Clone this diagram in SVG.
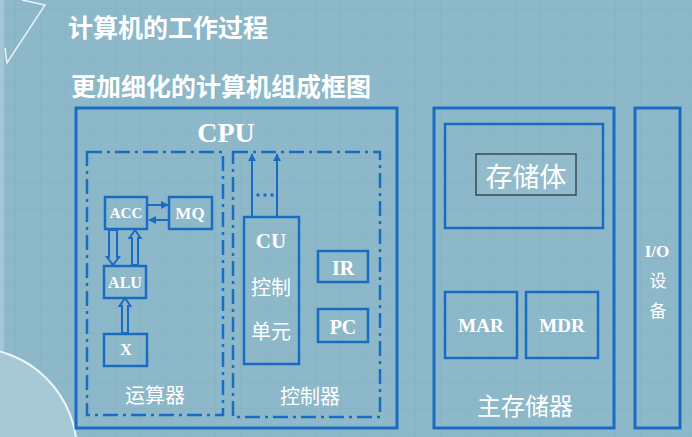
<svg xmlns="http://www.w3.org/2000/svg" width="692" height="437" viewBox="0 0 692 437">
<style>
.box{fill:none;stroke:#1a6cc2;stroke-width:2.5}
.outer{fill:none;stroke:#1a6cc2;stroke-width:3}
.dd{fill:none;stroke:#1a6cc2;stroke-width:2.5;stroke-dasharray:15 5 3 5}
.en{font-family:"Liberation Serif","Times New Roman",serif;font-weight:bold;fill:#ffffff;text-anchor:middle}
.cn{font-family:"Noto Sans CJK SC","Noto Sans",sans-serif;fill:#ffffff;text-anchor:middle}
.title{font-family:"Noto Sans CJK SC","Noto Sans",sans-serif;font-weight:bold;fill:#ffffff;font-size:25px}
.ln{stroke:#1a6cc2;stroke-width:2;fill:none}
.hollow{fill:#8db8c9;stroke:#1a6cc2;stroke-width:2}
</style>
<defs>
<pattern id="grid" x="15" y="8" width="25" height="25" patternUnits="userSpaceOnUse">
<path d="M0 0H25M0 0V25" fill="none" stroke="#84b0c1" stroke-width="1"/>
</pattern>
<marker id="ah" viewBox="0 0 10 10" refX="9" refY="5" markerWidth="4" markerHeight="4" orient="auto">
<path d="M0 0L10 5L0 10z" fill="#1a6cc2"/>
</marker>
</defs>
<rect width="692" height="437" fill="#8db8c9"/>
<rect width="692" height="437" fill="url(#grid)"/>
<rect x="0" y="0" width="4" height="437" fill="#a3c7d4"/>
<circle cx="-27" cy="452" r="104" fill="#a6c9d5" stroke="#eef6f8" stroke-width="2"/>
<polyline points="22,0 45,5 7,63 5,48" fill="none" stroke="#e8f3f6" stroke-width="1.5"/>
<text class="title" x="68" y="37">计算机的工作过程</text>
<text class="title" x="71" y="96">更加细化的计算机组成框图</text>

<g id="cpu">
<rect class="outer" x="76" y="108" width="321" height="320"/>
<text class="en" x="226" y="142" font-size="28">CPU</text>
</g>
<g id="alu-unit">
<rect class="dd" x="87" y="152" width="136" height="263"/>
<text class="cn" x="155" y="403" font-size="20">运算器</text>
</g>
<g id="acc">
<rect class="box" x="105" y="197" width="42" height="32"/>
<text class="en" x="126" y="218" font-size="15">ACC</text>
</g>
<g id="mq">
<rect class="box" x="169" y="197" width="43" height="32"/>
<text class="en" x="190" y="219" font-size="17">MQ</text>
</g>
<g id="alu">
<rect class="box" x="104" y="266" width="42" height="32"/>
<text class="en" x="125" y="288" font-size="16">ALU</text>
</g>
<g id="x">
<rect class="box" x="104" y="334" width="43" height="32"/>
<text class="en" x="126" y="355" font-size="16">X</text>
</g>
<g id="ctrl-unit">
<rect class="dd" x="233" y="152" width="147" height="265"/>
<text class="cn" x="310" y="404" font-size="20">控制器</text>
</g>
<g id="cu">
<rect class="box" x="244" y="217" width="55" height="147"/>
<text class="en" x="271" y="248" font-size="21">CU</text>
<text class="cn" x="271" y="295" font-size="20">控制</text>
<text class="cn" x="271" y="339" font-size="20">单元</text>
</g>
<g id="ir">
<rect class="box" x="318" y="251" width="50" height="31"/>
<text class="en" x="343" y="275" font-size="20">IR</text>
</g>
<g id="pc">
<rect class="box" x="318" y="309" width="50" height="33"/>
<text class="en" x="343" y="334" font-size="20">PC</text>
</g>
<g id="main-memory">
<rect class="outer" x="434" y="108" width="180" height="320"/>
<text class="cn" x="525" y="415" font-size="24">主存储器</text>
</g>
<g id="storage">
<rect class="box" x="445" y="124" width="158" height="104"/>
<rect x="476" y="154" width="100" height="41" fill="#92bccc" stroke="#3a4a52" stroke-width="1.5"/>
<text class="cn" x="526" y="187" font-size="27">存储体</text>
</g>
<g id="mar">
<rect class="box" x="445" y="292" width="72" height="66"/>
<text class="en" x="481" y="332" font-size="19">MAR</text>
</g>
<g id="mdr">
<rect class="box" x="526" y="292" width="72" height="66"/>
<text class="en" x="562" y="332" font-size="19">MDR</text>
</g>
<g id="io">
<rect class="outer" x="635" y="108" width="45" height="320"/>
<text class="en" x="657" y="257" font-size="17">I/O</text>
<text class="cn" x="658" y="287" font-size="17">设</text>
<text class="cn" x="658" y="317" font-size="17">备</text>
</g>

<g id="connectors">
<line class="ln" x1="148" y1="205" x2="168" y2="205" marker-end="url(#ah)"/>
<line class="ln" x1="169" y1="220" x2="149" y2="220" marker-end="url(#ah)"/>
<path class="hollow" d="M109 230V257H107L113 265L119 257H117V230Z"/>
<path class="hollow" d="M132 265V238H129.5L135 230L140.5 238H138V265Z"/>
<path class="hollow" d="M122 333V306H119.5L125 298L130.5 306H128V333Z"/>
<line class="ln" x1="252" y1="216" x2="252" y2="154" marker-end="url(#ah)"/>
<line class="ln" x1="277" y1="216" x2="277" y2="154" marker-end="url(#ah)"/>
<g fill="#1a6cc2"><circle cx="258" cy="195" r="1.7"/><circle cx="265" cy="195" r="1.7"/><circle cx="272" cy="195" r="1.7"/></g>
</g>
</svg>
